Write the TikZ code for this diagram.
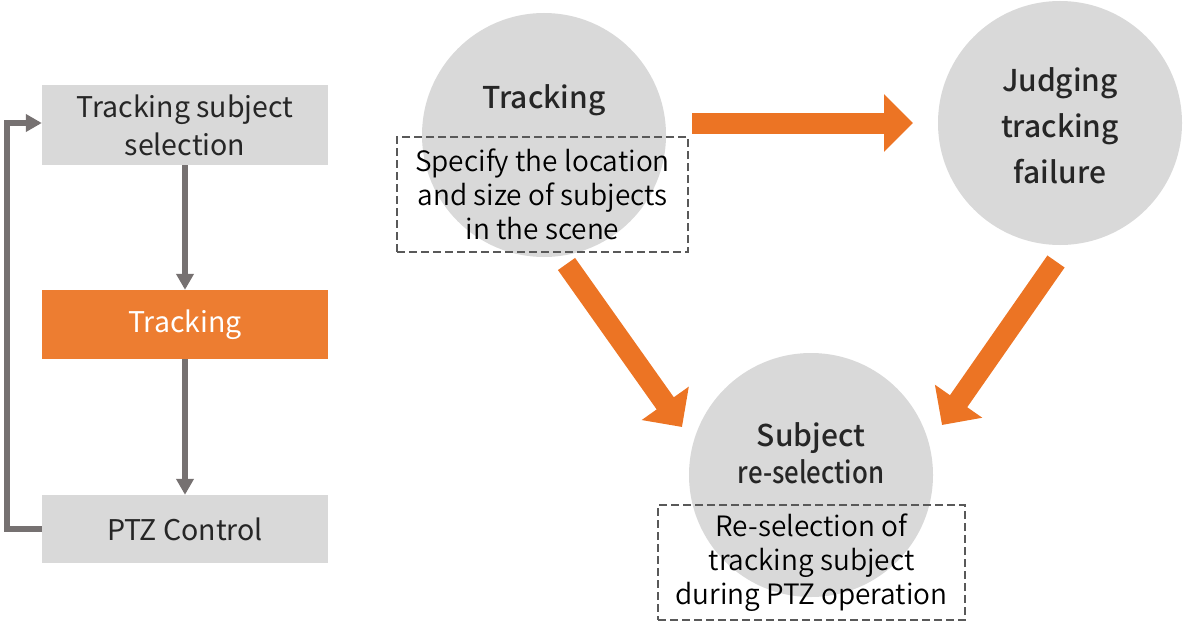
\documentclass[tikz,border=0pt]{standalone}
\usepackage{fontspec}
\setmainfont{Noto Sans CJK KR}
\newfontfamily\medfont{Noto Sans CJK KR Medium}
\newfontfamily\lightfont{Noto Sans CJK KR DemiLight}
\usetikzlibrary{arrows.meta}
\definecolor{boxgray}{HTML}{D9D9D9}
\definecolor{boxorange}{HTML}{ED7D31}
\definecolor{arroworange}{HTML}{EC7424}
\definecolor{linegray}{HTML}{767171}
\definecolor{txt}{HTML}{262626}
\definecolor{dashcol}{HTML}{595959}
\tikzset{
  leftbox/.style={rectangle, fill=boxgray, minimum width=286pt, inner sep=0pt, align=center, text=txt, font=\fontsize{28.5}{38}\selectfont},
  orangebox/.style={leftbox, fill=boxorange, text=white},
  grayarrow/.style={draw=linegray, line width=5.5pt, -{Triangle[length=16pt,width=17pt]}},
  circ/.style={circle, fill=boxgray, minimum size=244pt, inner sep=0pt},
  circtext/.style={align=center, text=txt, inner sep=0pt, font=\medfont\fontsize{30}{46}\selectfont},
  dashbox/.style={rectangle, draw=dashcol, dashed, dash pattern=on 8pt off 4pt, line width=1.3pt, inner sep=0pt, align=center, text=black, font=\lightfont\fontsize{28}{34}\selectfont},
  bigarrow/.style={draw=arroworange, line width=21pt, line cap=butt, -{Triangle[length=29pt,width=56pt]}}
}
\begin{document}
\begin{tikzpicture}[x=1pt,y=-1pt]
\useasboundingbox (0,0) rectangle (1183,626);
% left flow
\node[leftbox, minimum height=80pt] (b1) at (185,125) {Tracking subject\\selection};
\node[orangebox, minimum height=69pt] (b2) at (185,324.5) {\raisebox{-3pt}{Tracking}};
\node[leftbox, minimum height=68pt] (b3) at (185,529) {PTZ Control};
\draw[grayarrow] (b1.south) -- (b2.north);
\draw[grayarrow] (b2.south) -- (b3.north);
\draw[grayarrow] (b3.west) -- ++(-35,0) |- ([yshift=2pt]b1.west);
% circles
\node[circ] (c1) at (544,135) {};
\node[circ] (c2) at (1060,123) {};
\node[circ] (c3) at (811,475) {};
\node[circtext] (t1) at (544,100) {Tracking};
\node[circtext] (t2) at (1060,126) {Judging\\tracking\\failure};
\node[circtext, font=\medfont\fontsize{30}{37}\selectfont] (t3) at (811,453) {Subject\\\scalebox{0.86}[1]{re-selection}};
% dashed boxes
\node[dashbox, minimum width=291pt, minimum height=115pt] (d1) at (542.5,194.5) {Specify the location\\and size of subjects\\in the scene};
\node[dashbox, minimum width=307pt, minimum height=115pt] (d2) at (811.5,562.5) {Re-selection of\\tracking subject\\during PTZ operation};
% orange arrows
\coordinate (a1s) at (692,123);
\coordinate (a1e) at (913,123);
\coordinate (a2s) at (566.5,264);
\coordinate (a2e) at (682,427);
\coordinate (a3s) at (1056,261.5);
\coordinate (a3e) at (942,425);
\draw[bigarrow] (a1s) -- (a1e);
\draw[bigarrow] (a2s) -- (a2e);
\draw[bigarrow] (a3s) -- (a3e);
\end{tikzpicture}
\end{document}
